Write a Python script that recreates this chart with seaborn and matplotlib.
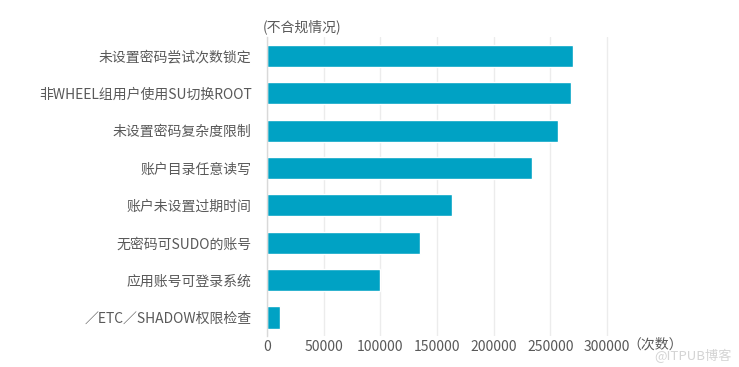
import matplotlib
matplotlib.use("Agg")
import matplotlib.pyplot as plt
import seaborn as sns
import pandas as pd

categories = [
    "未设置密码尝试次数锁定",
    "非WHEEL组用户使用SU切换ROOT",
    "未设置密码复杂度限制",
    "账户目录任意读写",
    "账户未设置过期时间",
    "无密码可SUDO的账号",
    "应用账号可登录系统",
    "／ETC／SHADOW权限检查",
]
counts = [270000, 268000, 257000, 234000, 163500, 135000, 100000, 12000]
xticks = [0, 50000, 100000, 150000, 200000, 250000, 300000]

sns.set_theme(style="white")
plt.rcParams["font.family"] = ["Noto Sans CJK SC", "DejaVu Sans"]

df = pd.DataFrame({"item": categories, "count": counts})

fig = plt.figure(figsize=(7.39, 3.67), dpi=100)
ax = fig.add_axes([0.361, 0.084, 0.476, 0.815])

sns.barplot(data=df, y="item", x="count", orient="h", color="#00A2C4",
            saturation=1, width=0.59, ax=ax)

ax.set_xlim(0, 310000)
ax.set_xticks(xticks)
ax.set_xticklabels([str(v) for v in xticks])
ax.xaxis.grid(True, color="#ececec", linewidth=1)
ax.set_axisbelow(True)
for s in ["top", "right", "bottom"]:
    ax.spines[s].set_visible(False)
ax.spines["left"].set_color("#d9d9d9")
ax.spines["left"].set_linewidth(1)
ax.tick_params(axis="both", length=0, labelsize=10, colors="#595959")
ax.tick_params(axis="x", pad=3)
ax.tick_params(axis="y", pad=11)
ax.set_xlabel("")
ax.set_ylabel("")

fig.text(0.355, 0.926, "(不合规情况)", fontsize=10, color="#595959", ha="left", va="center")
fig.text(0.849, 0.06, "（次数）", fontsize=10, color="#595959", ha="left", va="center")
fig.text(0.99, 0.03, "@ITPUB博客", fontsize=9.5, color="#d4d4d4", ha="right", va="center")

fig.savefig("out.png", dpi=100)
